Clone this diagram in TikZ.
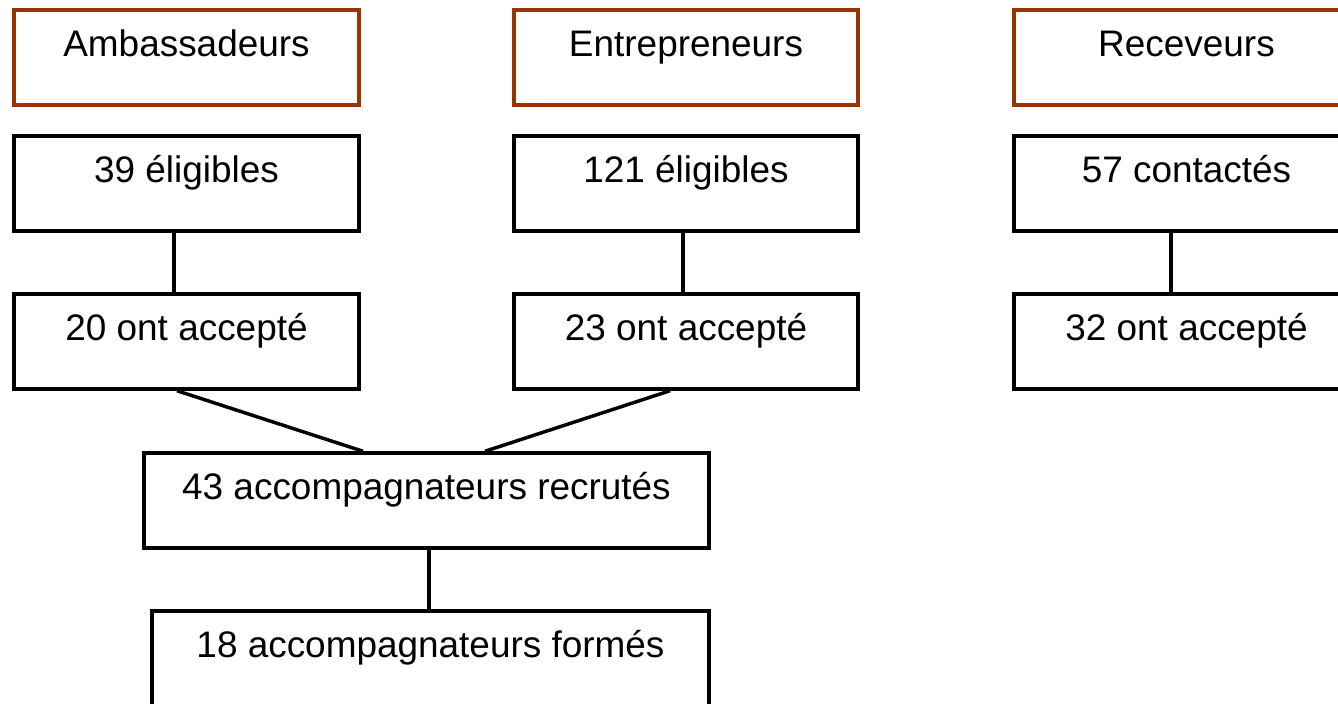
\documentclass[tikz,border=0pt]{standalone}
\usepackage{fontspec}
\setmainfont{Liberation Sans}
\usetikzlibrary{calc}
\definecolor{brn}{HTML}{993300}
\begin{document}
\begin{tikzpicture}[x=0.75pt,y=-0.75pt,
  basebox/.style={rectangle, fill=white, inner sep=0pt, text height=34.5pt, text depth=36.75pt,
    font=\fontsize{27.7}{32}\selectfont},
  headbox/.style={basebox, draw=brn, line width=3.4pt, minimum width=#1},
  stepbox/.style={basebox, draw=black, line width=2.6pt, minimum width=#1},
  link/.style={draw=black, line width=2.6pt}]
\useasboundingbox (0,0) rectangle (1338,703);
\clip (0,0) rectangle (1338,703);
\fill[white] (0,0) rectangle (1338,703);

\node[headbox=258.75pt] (h1) at (186.5,57.5) {Ambassadeurs};
\node[headbox=258pt] (h2) at (686,57.5) {Entrepreneurs};
\node[headbox=258.75pt] (h3) at (1186.5,57.5) {Receveurs};

\node[stepbox=258.75pt] (e1) at (186.5,183.5) {39 éligibles};
\node[stepbox=258pt] (e2) at (686,183.5) {121 éligibles};
\node[stepbox=258.75pt] (e3) at (1186.5,183.5) {57 contactés};

\node[stepbox=258.75pt] (a1) at (186.5,341.5) {20 ont accepté};
\node[stepbox=258pt] (a2) at (686,341.5) {23 ont accepté};
\node[stepbox=258.75pt] (a3) at (1186.5,341.5) {32 ont accepté};

\node[stepbox=423.75pt] (r) at (426.5,500.5) {43 accompagnateurs recrutés};
\node[stepbox=417.75pt] (f) at (430.5,658.5) {18 accompagnateurs formés};

\draw[link] ($(e1.south)+(-12.5,0)$) -- ($(a1.north)+(-12.5,0)$);
\draw[link] ($(e2.south)+(-3,0)$) -- ($(a2.north)+(-3,0)$);
\draw[link] ($(e3.south)+(-15.5,0)$) -- ($(a3.north)+(-15.5,0)$);
\draw[link] ($(a1.south)+(-9.5,0)$) -- ($(r.north)+(-63.5,0)$);
\draw[link] ($(a2.south)+(-16,0)$) -- ($(r.north)+(58.5,0)$);
\draw[link] ($(r.south)+(2.5,0)$) -- ($(f.north)+(-1.5,0)$);
\end{tikzpicture}
\end{document}
